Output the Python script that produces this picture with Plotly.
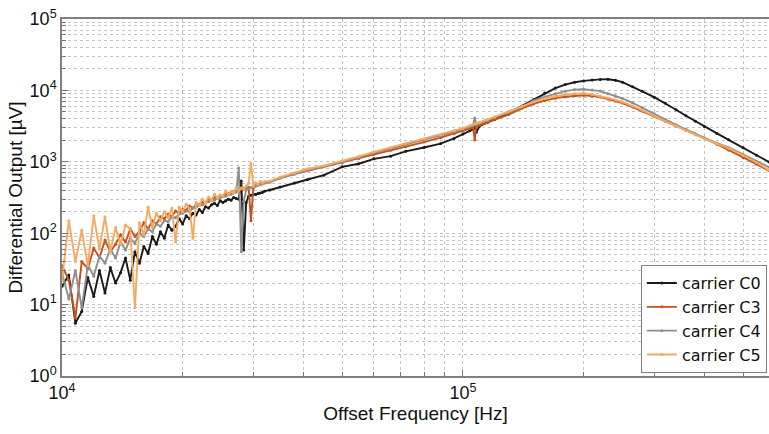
import plotly.graph_objects as go

# ---------------- data ----------------
freq_low_hz = [10000, 10400, 10800, 11200, 11600, 12000, 12400, 12800, 13200, 13600,
               14000, 14400, 14800, 15200, 15600, 16000, 16400, 16800, 17200, 17600,
               18000, 18400, 18800, 19200, 19600, 20000, 20400, 20800, 21200, 21600,
               22000, 22400, 22800, 23200, 23600, 24000, 24400, 24800, 25200, 25600,
               26000, 26400, 26800, 27200, 27600, 28000, 28400, 28800, 29200, 29600,
               30000, 30400, 30800, 31200, 31600, 32000]
freq_high_hz = [33000, 35000, 38000, 41000, 45000, 50000, 55000, 60000, 66000, 72000,
                80000, 88000, 95000, 100000, 104000, 106000, 107000, 108000, 110000, 115000,
                120000, 130000, 140000, 150000, 160000, 170000, 180000, 190000, 200000, 210000,
                220000, 230000, 240000, 250000, 265000, 280000, 300000, 320000, 340000, 360000,
                380000, 400000, 430000, 460000, 500000, 540000, 580000]

c0_low = [18, 26, 5.5, 8, 24, 13, 30, 14.5, 33, 20, 28, 45, 22, 55, 38, 65, 52, 90, 70, 105,
          85, 130, 110, 125, 160, 135, 175, 160, 190, 180, 215, 195, 235, 225, 250, 262, 245, 285, 270, 282,
          300, 290, 315, 305, 300, 540, 58, 270, 330, 340, 352, 348, 360, 365, 372, 388]
c0_high = [403, 444, 503, 565, 650, 850, 940, 1100, 1200, 1400, 1586, 1798, 2124, 2452, 2718, 2847, 3300, 2600,
           3152, 3528, 3937, 4873, 6008, 7386, 9170, 10770, 12060, 12990, 13590, 14030, 14260, 14350, 13850,
           13030, 11270, 9714, 8032, 6597, 5366, 4423, 3690, 3132, 2500, 2033, 1570, 1237, 993]

c3_low = [35, 22, 6.5, 40, 32, 62, 45, 80, 55, 70, 95, 75, 115, 90, 105, 140, 115, 150, 135, 170,
          160, 185, 170, 205, 190, 215, 210, 240, 225, 250, 255, 275, 270, 300, 290, 315, 320, 335, 330, 355,
          360, 370, 380, 400, 405, 415, 425, 432, 440, 150, 430, 470, 480, 492, 500, 512]
c3_high = [521, 592, 675, 750, 850, 970, 1110, 1280, 1450, 1630, 1890, 2180, 2470, 2700, 2920, 3020, 2020, 3140,
           3250, 3550, 3870, 4590, 5560, 6470, 7195, 7780, 8165, 8460, 8565, 8320, 8058, 7580, 7130, 6660,
           5835, 5130, 4323, 3690, 3183, 2770, 2443, 2148, 1764, 1468, 1152, 925, 748]

c4_low = [28, 12, 30, 9, 36, 25, 48, 38, 60, 45, 75, 58, 85, 72, 100, 90, 115, 105, 135, 125,
          150, 145, 170, 165, 185, 190, 205, 200, 225, 230, 245, 250, 265, 275, 285, 290, 305, 310, 325, 330,
          345, 350, 365, 378, 820, 55, 280, 405, 420, 432, 445, 456, 466, 478, 490, 502]
c4_high = [522, 594, 676, 757, 864, 995, 1154, 1339, 1542, 1739, 2018, 2328, 2636, 2880, 3118, 3230, 4100, 3356,
           3478, 3795, 4142, 4911, 5790, 7175, 8137, 9005, 9760, 10260, 10390, 10100, 9780, 9000, 8400, 7700,
           6700, 5700, 4700, 3900, 3300, 2850, 2450, 2160, 1830, 1590, 1270, 1020, 840]

c5_low = [22, 150, 40, 110, 35, 175, 60, 170, 55, 120, 70, 130, 115, 9, 140, 95, 230, 120, 190, 150,
          200, 165, 225, 75, 230, 200, 255, 225, 85, 270, 245, 300, 265, 320, 290, 350, 310, 345, 330, 390,
          350, 385, 370, 430, 400, 430, 415, 460, 500, 950, 460, 510, 480, 530, 505, 530]
c5_high = [538, 612, 697, 800, 880, 1026, 1190, 1380, 1590, 1793, 2080, 2400, 2718, 2970, 3214, 3330, 3390, 3460,
           3586, 3912, 4270, 5063, 5970, 6900, 7675, 8295, 8700, 9020, 9140, 8730, 8350, 7830, 7360, 6880,
           6045, 5297, 4395, 3690, 3162, 2735, 2374, 2106, 1793, 1545, 1229, 977, 760]

series_names = ["carrier C0", "carrier C3", "carrier C4", "carrier C5"]
series_colors = ["#1a1a1a", "#c4521f", "#8e8e8e", "#f6a95f"]

x_tickvals = [10000, 100000]
x_ticktext = ["10<sup>4</sup>", "10<sup>5</sup>"]
x_minor_tickvals = [20000, 30000, 40000, 50000, 60000, 70000, 80000, 90000,
                    200000, 300000, 400000, 500000, 600000]
y_tickvals = [1, 10, 100, 1000, 10000, 100000]
y_ticktext = ["10<sup>0</sup>", "10<sup>1</sup>", "10<sup>2</sup>",
              "10<sup>3</sup>", "10<sup>4</sup>", "10<sup>5</sup>"]
y_minor_tickvals = [2, 3, 4, 5, 6, 7, 8, 9,
                    20, 30, 40, 50, 60, 70, 80, 90,
                    200, 300, 400, 500, 600, 700, 800, 900,
                    2000, 3000, 4000, 5000, 6000, 7000, 8000, 9000,
                    20000, 30000, 40000, 50000, 60000, 70000, 80000, 90000]

# ---------------- figure ----------------
freq_hz = freq_low_hz + freq_high_hz
values = [c0_low + c0_high, c3_low + c3_high, c4_low + c4_high, c5_low + c5_high]

FONT = "Liberation Sans, Arial, sans-serif"
LEGEND_FONT = "DejaVu Sans, sans-serif"
fig = go.Figure()
for name, color, y in zip(series_names, series_colors, values):
    fig.add_trace(go.Scatter(
        x=freq_hz, y=y, name=name, mode="lines+markers",
        line=dict(color=color, width=1.9),
        marker=dict(color=color, size=3),
    ))

GRIDC = "#c4c4c4"
fig.update_xaxes(
    type="log", range=[4, 5.7634], tickmode="array", tickvals=x_tickvals, ticktext=x_ticktext,
    ticks="inside", ticklen=6, tickcolor="#777777",
    showgrid=True, gridcolor=GRIDC, griddash="dot", gridwidth=1,
    minor=dict(tickmode="array", tickvals=x_minor_tickvals, ticks="inside", ticklen=4,
               tickcolor="#777777", showgrid=True, gridcolor=GRIDC, griddash="dot", gridwidth=1),
    showline=True, linecolor="#808080", linewidth=1.5, mirror=True,
    tickfont=dict(family=FONT, size=18, color="#111111"),
    title=dict(text="Offset Frequency [Hz]", font=dict(family=FONT, size=19, color="#111111"), standoff=4),
    zeroline=False,
)
fig.update_yaxes(
    type="log", range=[0, 5], tickmode="array", tickvals=y_tickvals, ticktext=y_ticktext,
    ticks="inside", ticklen=6, tickcolor="#777777",
    showgrid=True, gridcolor=GRIDC, griddash="dot", gridwidth=1,
    minor=dict(tickmode="array", tickvals=y_minor_tickvals, ticks="inside", ticklen=4,
               tickcolor="#777777", showgrid=True, gridcolor=GRIDC, griddash="dot", gridwidth=1),
    showline=True, linecolor="#808080", linewidth=1.5, mirror=False,
    tickfont=dict(family=FONT, size=18, color="#111111"),
    title=dict(text="Differential Output [µV]", font=dict(family=FONT, size=19, color="#111111"), standoff=2),
    zeroline=False,
)
fig.update_layout(
    width=769, height=434,
    margin=dict(l=62, r=0, t=19, b=58),
    paper_bgcolor="white", plot_bgcolor="white",
    showlegend=True,
    legend=dict(
        x=0.997, xanchor="right", y=0.008, yanchor="bottom",
        bgcolor="white", bordercolor="#808080", borderwidth=1,
        font=dict(family=LEGEND_FONT, size=16, color="#111111"),
        tracegroupgap=0, itemwidth=30,
    ),
)
fig.write_html("out.html", config={"displayModeBar": False},
               post_script="document.body.style.margin='0';")
